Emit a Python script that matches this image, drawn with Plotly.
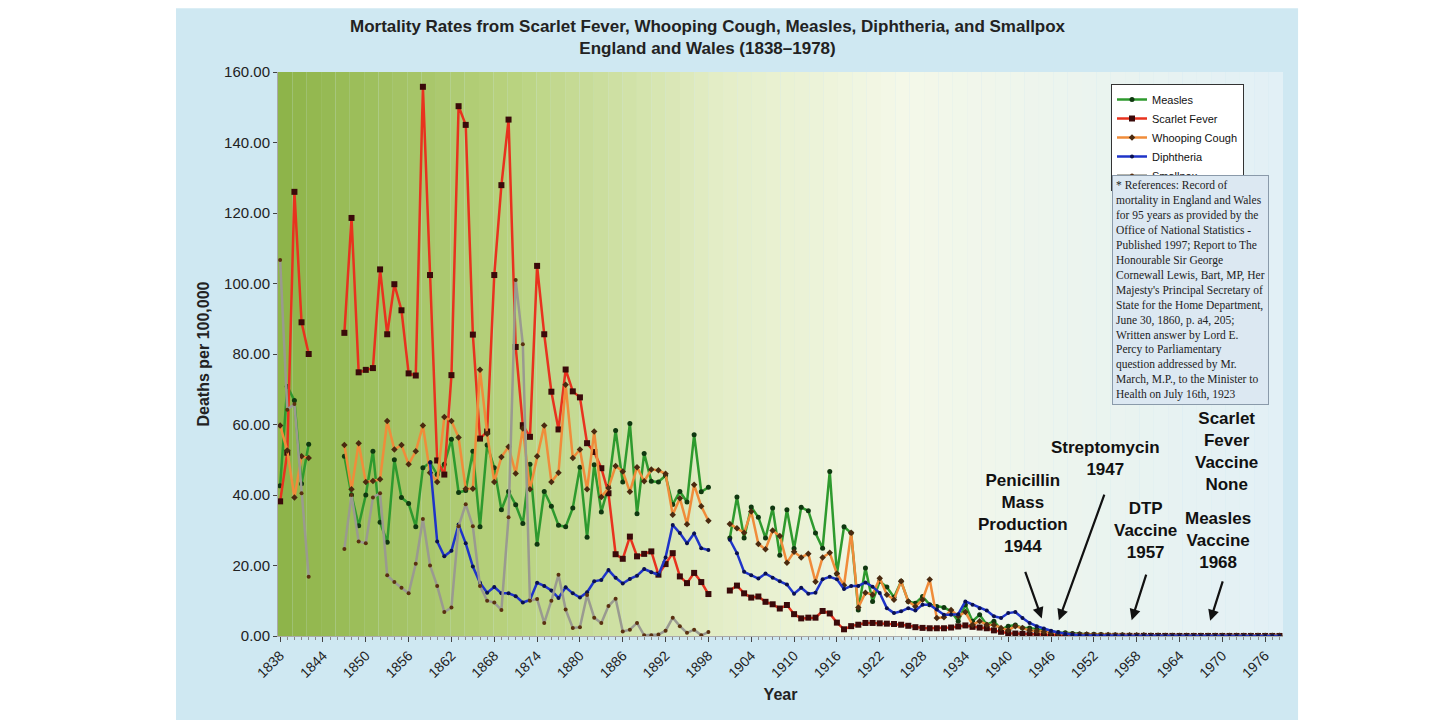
import plotly.graph_objects as go

years = list(range(1838, 1979))
N5 = [None]*4
N2 = [None]*2
tail_small = [0.9,0.7,0.6,0.5,0.4,0.4,0.3,0.3,0.3,0.2,0.2,0.2,0.2,0.2,0.1,0.1,0.1,0.1,0.1,0.1,0.1,0.1,0.1,0.1,0.1,0.05,0.05,0.05,0.05,0.05,0.05,0.05,0.05]

measles = ([42.6,70.8,66.8,43.2,54.4] + N5 +
  [51,40,31.3,40,52.4,32.3,26.6,50,39.3,37.6,31,47.7,49.2,45.8,48.7,55.8,40.7,41.3,52.4,31,54.2,47.7,35.8,41,37.2,31.9,48.7,26,41,36.8,31.4] +
  [31,36.3,47.9,28,48.6,35.2,42.5,58.3,43.7,60.3,34.7,51.8,43.9,43.7,45.5,37.3,41,38,57.1,40.9,42.2] + N2 +
  [27.8,39.4,27.8,36.6,33.7,27.8,36.3,22.9,35.8,24.8,36.5,35.5,29.2,24.9,46.7,17.6,31,29.2,7.4,19.3] +
  [9.8,15.5,13.9,11,15.5,9.8,9.3,11.2,8.9,8.4,8.1,7,4.2,8.9,4.2,6,3.2,4.2,1.9,2.8,3.1,2.3,2.3,1.9,1.6] +
  [1.2,1.0,0.9,0.7,0.6,0.5,0.5,0.4,0.3,0.3,0.3,0.2,0.2,0.2,0.2,0.2,0.1,0.1,0.1,0.1,0.1,0.1,0.1,0.05,0.05,0.05,0.05,0.05,0.05,0.05,0.05,0.05,0.05])

scarlet = ([38.2,52,126,89,80] + N5 +
  [86,118.6,74.8,75.5,76,104,85.6,99.8,92.4,74.5,73.9,155.8,102.4,49.8,45.8,74,150.3,145,85.5,56,58,102.4,127.9,146.5,82,59.8,56.5,105,85.6,69.3,58.6] +
  [75.6,69.4,67.7,54.7,52.2,47.6,40.5,23.2,21.9,28.2,22.6,23.3,24,17.4,20.4,23.5,16.9,15,17.9,15.3,11.9] + N2 +
  [12.9,14.3,12.1,10.9,11.2,9.7,9.0,7.8,8.8,6.2,5.0,5.2,5.2,7.1,6.4,3.8,1.9,2.8,3.2,3.7] +
  [3.7,3.6,3.5,3.4,3.2,2.9,2.5,2.3,2.2,2.2,2.2,2.4,2.7,3.0,2.6,2.4,2.2,1.6,1.2,0.8,0.7,0.6,0.5,0.4,0.3] +
  [0.2,0.2,0.15,0.1,0.1,0.1,0.05,0.05,0.05,0.05,0.03,0.03,0.03,0.03,0.02,0.02,0.02,0.02,0.01,0.01,0.01,0.01,0.01,0.01,0.01,0.01,0.01,0.01,0.01,0.01,0.01,0.01,0.01])

whooping = ([59.7,52.6,39.3,51,50.5] + N5 +
  [54.2,41.6,54.7,43.7,44,44.5,61,52.9,54.2,48.7,52.4,59.7,46.3,43.7,62.1,61,56.3,41.8,41.8,75.5,57.4,43.7,50.8,53.7,46.1,58.9,41.6,51,59.7,43.7,46.3] +
  [71.3,50.5,52.9,41.6,58,39.4,42,48.2,46.7,40.9,47.9,43.9,47.2,47,46,34.4,39.1,31.7,42.9,36.8,32.7] + N2 +
  [31.8,30.6,29.3,35.3,26.1,24.6,29.9,28.4,20.8,23.9,22.3,23.3,15.4,22.3,23.6,17.7,14.4,29.3,8.1,12.3] +
  [11.7,16.4,11.7,10.3,15.5,9.8,8.4,10.3,16,5.1,5.3,7.4,5.6,6.8,3.2,4.2,3.2,3.1,2.3,1.6,2.8,2.3,1.6,1.4,1.2] +
  tail_small)

diphtheria = ([None]*21 +
  [49.2,26.8,22.6,24.2,31.6,26.3,19.7,15.1,12.3,13.9,12.1,12.1,11.3,9.5,10.2,15.1,14.2,12.9,10.8] +
  [13.8,12.1,10.9,12.4,15.5,15.9,18.7,16.5,14.9,16.2,17.1,19,18.1,17.3,22.3,31.5,29.2,26.3,29.1,24.9,24.4] + N2 +
  [27.3,23.5,18.2,17.2,16.3,17.7,16.5,15.5,14.6,12,13.7,12,12.3,16.1,16.8,16.1,13.3,14.2,14.2,15.2] +
  [14,12.2,7.9,6.5,7,7.9,7.2,8.9,8.9,7.5,6,6,6.2,9.8,8.9,7.9,7.2,5.6,5.1,6.5,6.8,5.1,3.7,2.8,2.1] +
  [1.5,1.0,0.6,0.4,0.2,0.15,0.1,0.1,0.1,0.05,0.05,0.05,0.05,0.05,0.02,0.02,0.02,0.02,0.02,0.01,0.01,0.01,0.01,0.01,0.01,0.01,0.01,0.01,0.01,0.01,0.01,0.01,0.01])

smallpox = ([106.7,64.2,65.8,40.5,16.8] + N5 +
  [24.7,40,26.8,26.3,39.3,40.5,17.2,15.3,13.7,12.1,20.5,33.2,20,14.2,6.8,8.1,31.1,37.4,31.1,14.2,10,9.5,7.4,33.7,101,82.8,10,10.5,3.7,10,17.4] +
  [7.5,2.3,2.5,11.6,5.2,3.7,8.5,10.6,1.3,1.8,3.7,0.2,0.2,0.4,1.5,5.2,2.8,0.9,1.8,0.2,1.1] +
  [None]*80)

for s in (measles, scarlet, whooping, diphtheria, smallpox):
    s.extend([s[-1]] * (len(years) - len(s)) if len(s) < len(years) else [])
    del s[len(years):]

tick_years = list(range(1838, 1979, 6))

fig = go.Figure()
series = [
    ("Measles", measles, "#2e9a2e", "circle", 5, "#103810"),
    ("Scarlet Fever", scarlet, "#e8321e", "square", 6, "#3a0a0a"),
    ("Whooping Cough", whooping, "#f08c3a", "diamond", 5, "#4a2a10"),
    ("Diphtheria", diphtheria, "#1f34c8", "circle", 4, "#0a1050"),
    ("Smallpox", smallpox, "#9a9a90", "circle", 4, "#5a3010"),
]
for name, vals, col, sym, sz, mcol in series:
    fig.add_trace(go.Scatter(x=years, y=vals, name=name, mode="lines+markers",
                             line=dict(color=col, width=2.5), connectgaps=False,
                             marker=dict(symbol=sym, size=sz, color=mcol)))

shapes = []
shapes.append(dict(type="rect", xref="paper", yref="paper", x0=-0.1015, x1=1.015, y0=-0.149, y1=1.113,
                   fillcolor="#cfe8f2", line=dict(width=0), layer="below"))
stops = [(1837.7, (141, 179, 72)), (1870, (184, 210, 126)), (1900, (228, 238, 200)),
         (1925, (244, 248, 232)), (1978.5, (226, 240, 246))]
n = 70
x0, x1 = 1837.7, 1978.5
for i in range(n):
    a = x0 + (x1 - x0) * i / n
    b = x0 + (x1 - x0) * (i + 1) / n
    m = (a + b) / 2
    for j in range(len(stops) - 1):
        if stops[j][0] <= m <= stops[j+1][0]:
            t = (m - stops[j][0]) / (stops[j+1][0] - stops[j][0])
            c = [round(stops[j][1][k] + t * (stops[j+1][1][k] - stops[j][1][k])) for k in range(3)]
            break
    shapes.append(dict(type="rect", xref="x", yref="paper", x0=a, x1=b, y0=0, y1=1,
                       fillcolor="rgb(%d,%d,%d)" % tuple(c), line=dict(width=0), layer="below"))

def px(xp): return (xp - 270) / 1005
def py(yp): return (628 - yp) / 564

ann = []
ann.append(dict(x=px(700), y=py(30), xref="paper", yref="paper", showarrow=False,
                xanchor="center", yanchor="middle",
                text="<b>Mortality Rates from Scarlet Fever, Whooping Cough, Measles, Diphtheria, and Smallpox<br>England and Wales (1838–1978)</b>",
                font=dict(family="Arial", size=17, color="#222")))
ref = ("* References: Record of<br>mortality in England and Wales<br>for 95 years as provided by the<br>"
       "Office of National Statistics -<br>Published 1997; Report to The<br>Honourable Sir George<br>"
       "Cornewall Lewis, Bart, MP, Her<br>Majesty's Principal Secretary of<br>State for the Home Department,<br>"
       "June 30, 1860, p. a4, 205;<br>Written answer by Lord E.<br>Percy to Parliamentary<br>"
       "question addressed by Mr.<br>March, M.P., to the Minister to<br>Health on July 16th, 1923")
ann.append(dict(x=px(1104), y=py(167), xref="paper", yref="paper", xanchor="left", yanchor="top",
                showarrow=False, text=ref, align="left", bgcolor="#dce8f2", bordercolor="#8a9aaa",
                borderwidth=1, borderpad=3,
                font=dict(family="Liberation Serif", size=11.5, color="#222")))
big = dict(family="Arial", size=17, color="#111")
for txt, xx, yy in [("Penicillin<br>Mass<br>Production<br>1944", 1015, 505),
                    ("Streptomycin<br>1947", 1097, 450),
                    ("DTP<br>Vaccine<br>1957", 1137, 522),
                    ("Scarlet<br>Fever<br>Vaccine<br>None", 1218, 443),
                    ("Measles<br>Vaccine<br>1968", 1210, 532)]:
    ann.append(dict(x=px(xx), y=py(yy), xref="paper", yref="paper", showarrow=False,
                    xanchor="center", yanchor="middle",
                    text="<b>%s</b>" % txt, font=big, align="center"))
for hx, hy, ax, ay in [(1944.7, 5, -17, -48), (1947.1, 4.5, 46, -127),
                       (1957.3, 4.5, 15, -47), (1968.3, 4.3, 13, -41)]:
    ann.append(dict(x=hx, y=hy, xref="x", yref="y", ax=ax, ay=ay, text="", showarrow=True,
                    arrowhead=2, arrowsize=1, arrowwidth=2.2, arrowcolor="#111"))

fig.update_layout(
    width=1456, height=720, margin=dict(l=270, r=181, t=64, b=92, autoexpand=False),
    paper_bgcolor="white", plot_bgcolor="rgba(0,0,0,0)",
    shapes=shapes, annotations=ann,
    legend=dict(x=px(1103), y=py(76), xanchor="left", yanchor="top", bgcolor="white",
                bordercolor="#333", borderwidth=1, font=dict(family="Arial", size=11, color="#111"),
                tracegroupgap=0, itemwidth=30),
    xaxis=dict(range=[1837.7, 1978.5], tickmode="array", tickvals=tick_years, automargin=False,
               ticktext=[str(y) for y in tick_years], tickangle=-45,
               tickfont=dict(family="Arial", size=14, color="#222"), showgrid=False, zeroline=False,
               ticks="outside", ticklen=5, minor=dict(dtick=1, ticks="outside", ticklen=3, tickcolor="#888"),
               title=dict(text="<b>Year</b>", font=dict(family="Arial", size=16, color="#222"), standoff=8),
               showline=True, linecolor="#aaa"),
    yaxis=dict(range=[0, 160], dtick=20, tickformat=".2f", showgrid=False, zeroline=False, automargin=False,
               tickfont=dict(family="Arial", size=15, color="#222"), ticks="outside", ticklen=4,
               title=dict(text="<b>Deaths per 100,000</b>", font=dict(family="Arial", size=16, color="#222"), standoff=10),
               showline=True, linecolor="#aaa"),
)
fig.write_html("out.html")
